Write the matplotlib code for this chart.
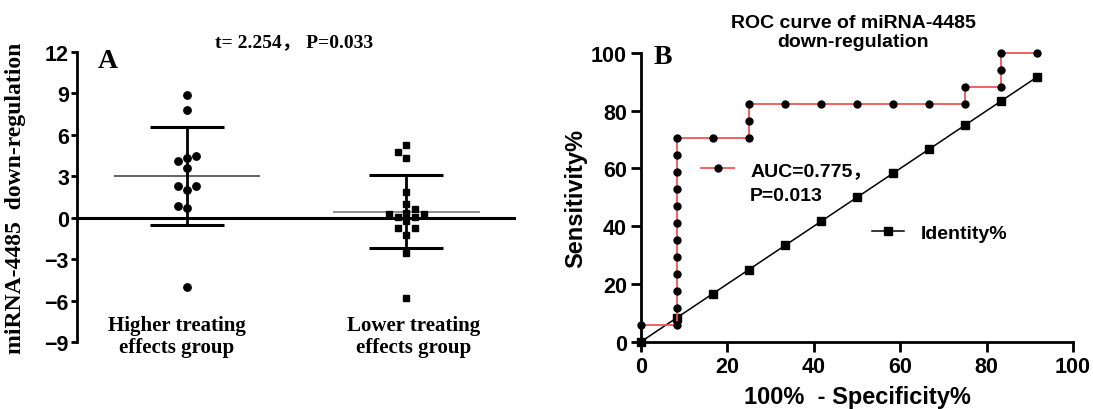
import numpy as np
import matplotlib
matplotlib.use("Agg")
import matplotlib.pyplot as plt

# ---------------- data ----------------
groups = ["Higher treating\neffects group", "Lower treating\neffects group"]
higher_values = [8.86, 7.75, 4.49, 4.30, 4.13, 3.60, 2.30, 2.30, 2.03, 0.83, 0.68, -4.99]
lower_values = [5.27, 4.74, 4.30, 1.84, 0.98, 0.63, 0.27, 0.27, 0.34, 0.08, 0.08,
                -0.25, -0.72, -0.75, -1.22, -2.58, -5.80]
stat_text = "t= 2.254\uff0c P=0.033"
y_ticks_a = [-9, -6, -3, 0, 3, 6, 9, 12]

roc_fpr = [0, 8.33, 8.33, 8.33, 8.33, 8.33, 8.33, 8.33, 8.33, 8.33, 8.33, 8.33, 8.33,
           16.67, 25, 25, 25, 33.33, 41.67, 50, 58.33, 66.67, 75, 75, 83.33, 83.33,
           83.33, 91.67]
roc_sens = [5.88, 5.88, 11.76, 17.65, 23.53, 29.41, 35.29, 41.18, 47.06, 52.94, 58.82,
            64.71, 70.59, 70.59, 70.59, 76.47, 82.35, 82.35, 82.35, 82.35, 82.35, 82.35,
            82.35, 88.24, 88.24, 94.12, 100, 100]
identity = [0, 8.33, 16.67, 25, 33.33, 41.67, 50, 58.33, 66.67, 75, 83.33, 91.67]
roc_label = "AUC=0.775\uff0c"
roc_label2 = "P=0.013"
identity_label = "Identity%"
roc_title = "ROC curve of miRNA-4485\ndown-regulation"
ticks_b = [0, 20, 40, 60, 80, 100]

# ---------------- layout (pixels) ----------------
W, H = 1093, 410
higher_jitter = [0, 0, 1, 0, -1, 0, -1, 1, 0, -1, 0, 0]
lower_jitter = [0, -1, 0, 0, 0, 1, -2, 2, 0, -1, 1, 0, -1, 1, 0, 0, 0]
jit = 0.04
group_pos = [1, 2]
label_pos = [0.955, 2.035]

SERIF = ["Liberation Serif", "Noto Sans CJK SC"]
SANS = ["Liberation Sans", "Noto Sans CJK SC"]

fig = plt.figure(figsize=(W / 100, H / 100), dpi=100)


def px_axes(x0, y0, x1, y1):
    return fig.add_axes([x0 / W, 1 - y1 / H, (x1 - x0) / W, (y1 - y0) / H])


# ---------------- panel A ----------------
ax1 = px_axes(77.3, 52.7, 516, 343.2)
ax1.set_xlim(0.5, 2.5)
ax1.set_ylim(-9, 12)
for s in ["top", "right", "bottom"]:
    ax1.spines[s].set_visible(False)
ax1.spines["left"].set_linewidth(2)
ax1.set_xticks([])
ax1.set_yticks(y_ticks_a)
ax1.tick_params(axis="y", direction="out", length=4, width=2, pad=2)
for lab in ax1.get_yticklabels():
    lab.set_family("Liberation Sans")
    lab.set_fontweight("bold")
    lab.set_fontsize(15.5)

ax1.axhline(0, color="black", lw=2.2, zorder=2)

mean_colors = ["#3a3a3a", "#707070"]
for i, (vals, jits, marker) in enumerate([(higher_values, higher_jitter, "o"),
                                           (lower_values, lower_jitter, "s")]):
    p = group_pos[i]
    v = np.array(vals)
    m = v.mean()
    sd = v.std(ddof=1)
    ax1.hlines(m, p - 0.334, p + 0.334, color=mean_colors[i], lw=1.1, zorder=3)
    ax1.vlines(p, m - sd, m + sd, color="black", lw=2, zorder=3)
    ax1.hlines([m - sd, m + sd], p - 0.169, p + 0.169, color="black", lw=2.2, zorder=3)
    xs = p + np.array(jits) * jit
    ax1.plot(xs, v, linestyle="none", marker=marker, color="black",
             ms=5.3 if marker == "o" else 5.0, zorder=4, clip_on=False)
    ax1.text(label_pos[i], -7.0, groups[i], ha="center", va="top", family=SERIF,
             fontweight="bold", fontsize=15, linespacing=1.15)

ax1.set_ylabel("miRNA-4485  down-regulation", family=SERIF, fontweight="bold",
               fontsize=17)
ax1.yaxis.set_label_coords(-0.118, 0.5)

fig.text(294 / W, 1 - 43 / H, stat_text, ha="center", va="center", family=SERIF,
         fontweight="bold", fontsize=14)
fig.text(108 / W, 1 - 62 / H, "A", ha="center", va="center", family=SERIF,
         fontweight="bold", fontsize=20)

# ---------------- panel B ----------------
ax2 = px_axes(641, 54, 1073, 342.7)
ax2.set_xlim(0, 100)
ax2.set_ylim(0, 100)
for s in ["top", "right"]:
    ax2.spines[s].set_visible(False)
for s in ["left", "bottom"]:
    ax2.spines[s].set_linewidth(2)
ax2.set_xticks(ticks_b)
ax2.set_yticks(ticks_b)
ax2.tick_params(direction="out", length=7, width=2, pad=3)
for lab in ax2.get_xticklabels() + ax2.get_yticklabels():
    lab.set_family("Liberation Sans")
    lab.set_fontweight("bold")
    lab.set_fontsize(15.5)

idline, = ax2.plot(identity, identity, color="black", lw=1.1, marker="s", ms=5.5,
                   zorder=3, clip_on=False)
rocline, = ax2.plot(roc_fpr, roc_sens, color="#f25555", lw=1.3, marker="o", ms=5,
                    mfc="black", mec="black", zorder=4, clip_on=False)

leg1 = ax2.legend([rocline], [roc_label], loc="center left",
                  bbox_to_anchor=(0.139, 0.595), frameon=False, borderpad=0,
                  borderaxespad=0, handlelength=1.7, handletextpad=0.85,
                  prop={"family": SANS, "weight": "bold", "size": 14})
ax2.add_artist(leg1)
ax2.text(25.2, 50.8, roc_label2, ha="left", va="center", family=SANS,
         fontweight="bold", fontsize=14)
ax2.legend([idline], [identity_label], loc="center left",
           bbox_to_anchor=(0.535, 0.377), frameon=False, borderpad=0,
           borderaxespad=0, handlelength=1.65, handletextpad=0.85,
           prop={"family": SANS, "weight": "bold", "size": 14})

ax2.set_ylabel("Sensitivity%", family="Liberation Sans", fontweight="bold",
               fontsize=17)
ax2.yaxis.set_label_coords(-0.125, 0.5)
ax2.set_xlabel("100%  - Specificity%", family="Liberation Sans", fontweight="bold",
               fontsize=17, labelpad=6)

fig.text(853 / W, 1 - 33 / H, roc_title, ha="center", va="center",
         family="Liberation Sans", fontweight="bold", fontsize=14, linespacing=1.2)
fig.text(663 / W, 1 - 57 / H, "B", ha="center", va="center", family=SERIF,
         fontweight="bold", fontsize=20)

fig.savefig("out.png", dpi=100)
